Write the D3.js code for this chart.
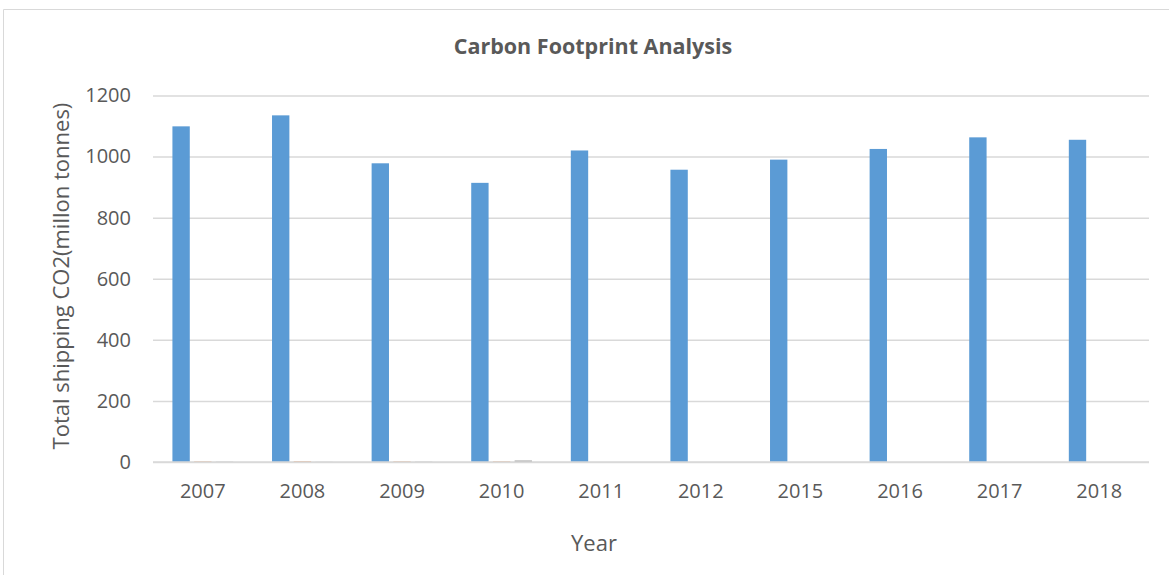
<!DOCTYPE html>
<html>
<head>
<meta charset="utf-8">
<script src="https://cdn.jsdelivr.net/npm/d3@7"></script>
<style>
  html, body { margin: 0; padding: 0; background: #fff; }
  svg { display: block; }
  text { font-family: "Open Sans", "Noto Sans", sans-serif; fill: #595959; }
</style>
</head>
<body>
<svg id="chart" width="1169" height="575"></svg>
<script>
// Annual shipping CO2 emissions (million tonnes)
const years = ["2007", "2008", "2009", "2010", "2011", "2012", "2015", "2016", "2017", "2018"];
const totalCO2 = [1099, 1135, 978, 914, 1020, 957, 990, 1025, 1063, 1055];
const seriesB = [1.5, 2, 1.5, 1.5, 0, 0, 0, 0, 0, 0];
const seriesC = [1, 0.5, 1, 5, 0, 0, 0, 0, 0, 0];
const seriesNames = ["Total", "B", "C"];
const seriesColors = ["#5B9BD5", "#ED7D31", "#A5A5A5"];
const yTicks = [0, 200, 400, 600, 800, 1000, 1200];

const rows = years.map((y, i) => ({ year: y, values: [totalCO2[i], seriesB[i], seriesC[i]] }));

const svg = d3.select("#chart");
const plot = { left: 153, right: 1149, top: 95.5, bottom: 462 };

// chart-area frame (top and left edges)
svg.append("path")
  .attr("d", "M3.5,575 V9.5 H1169")
  .attr("fill", "none").attr("stroke", "#D9D9D9").attr("stroke-width", 1);

const x = d3.scaleBand().domain(years).range([plot.left, plot.right])
  .paddingInner(0.39).paddingOuter(0.195);
const xs = d3.scaleBand().domain(d3.range(seriesNames.length)).range([0, x.bandwidth()])
  .paddingInner(0.2);
const y = d3.scaleLinear().domain([0, 1200]).range([plot.bottom, plot.top]);

// gridlines
const yAxis = d3.axisLeft(y).tickValues(yTicks).tickFormat(d3.format("d"))
  .tickSize(-(plot.right - plot.left)).tickPadding(22);
const gy = svg.append("g").attr("transform", `translate(${plot.left},0)`).call(yAxis);
gy.select(".domain").remove();
gy.selectAll(".tick line").attr("stroke", "#D9D9D9").attr("stroke-width", 1.5);
gy.selectAll(".tick text").attr("font-size", 20).attr("fill", "#595959")
  .attr("font-family", "'Open Sans', sans-serif");

// bars
const groups = svg.append("g").selectAll("g").data(rows).join("g")
  .attr("transform", d => `translate(${x(d.year)},0)`);
groups.selectAll("rect").data(d => d.values.map((v, k) => ({ v, k }))).join("rect")
  .attr("x", d => xs(d.k))
  .attr("width", xs.bandwidth())
  .attr("y", d => y(d.v))
  .attr("height", d => y(0) - y(d.v))
  .attr("fill", d => seriesColors[d.k]);

// category axis
const xAxis = d3.axisBottom(x).tickSize(0).tickPadding(22);
const gx = svg.append("g").attr("transform", `translate(0,${plot.bottom})`).call(xAxis);
gx.select(".domain").attr("stroke", "#D9D9D9").attr("stroke-width", 1.5)
  .attr("d", `M${plot.left},0H${plot.right}`);
gx.selectAll(".tick text").attr("font-size", 20).attr("fill", "#595959")
  .attr("font-family", "'Open Sans', sans-serif");

// titles
svg.append("text").attr("x", 593).attr("y", 54).attr("text-anchor", "middle")
  .attr("font-size", 21.5).attr("font-weight", "bold").text("Carbon Footprint Analysis");
svg.append("text").attr("x", 594).attr("y", 551).attr("text-anchor", "middle")
  .attr("font-size", 22).text("Year");
svg.append("text").attr("transform", "translate(69,276) rotate(-90)").attr("text-anchor", "middle")
  .attr("font-size", 22).text("Total shipping CO2(millon tonnes)");
</script>
</body>
</html>
